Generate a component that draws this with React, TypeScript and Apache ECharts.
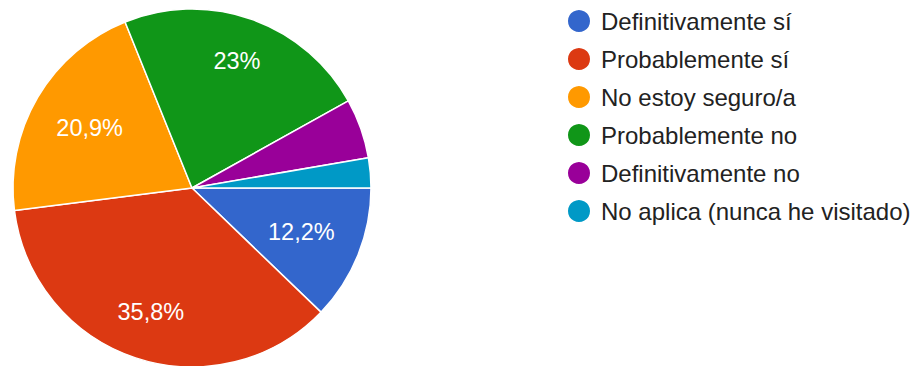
import React, { useEffect, useRef } from "react";
import * as echarts from "echarts";

const categories = [
  "Definitivamente sí",
  "Probablemente sí",
  "No estoy seguro/a",
  "Probablemente no",
  "Definitivamente no",
  "No aplica (nunca he visitado)",
];
const values = [12.2, 35.8, 20.9, 23, 5.4, 2.7];
const colors = ["#3366cc", "#dc3912", "#ff9900", "#109618", "#990099", "#0099c6"];

const CX = 192;
const CY = 188;
const R = 179;
const FONT = 24;
const FAMILY = "'Liberation Sans', Arial, sans-serif";
const LABEL_MIN = 10;

function fmt(v: number) {
  return String(v).replace(".", ",") + "%";
}

export default function App() {
  const ref = useRef<HTMLDivElement>(null);
  useEffect(() => {
    if (!ref.current) return;
    const chart = echarts.init(ref.current, null, { renderer: "svg" });
    const total = values.reduce((a, b) => a + b, 0);
    const mids: number[] = [];
    let acc = 0;
    values.forEach((v) => {
      const span = (v / total) * Math.PI * 2;
      mids.push(acc + span / 2);
      acc += span;
    });
    const data = categories.map((name, i) => ({
      name,
      value: values[i],
      itemStyle: { color: colors[i] },
      label: { show: values[i] >= LABEL_MIN },
    }));
    chart.setOption({
      animation: false,
      legend: {
        orient: "vertical",
        left: 566,
        top: 8,
        padding: 0,
        itemWidth: 24,
        itemHeight: 24,
        itemGap: 12,
        icon: "circle",
        selectedMode: false,
        textStyle: {
          fontSize: FONT,
          lineHeight: 24,
          height: 24,
          color: "#222222",
          fontFamily: FAMILY,
          padding: [0, 0, 0, 5],
        },
        data: categories,
      },
      series: [
        {
          type: "pie",
          center: [CX, CY],
          radius: [0, R],
          startAngle: 0,
          clockwise: true,
          silent: true,
          itemStyle: { borderColor: "#ffffff", borderWidth: 1.5 },
          label: {
            position: "inside",
            color: "#ffffff",
            fontSize: 23.5,
            fontFamily: FAMILY,
            formatter: (p: any) => fmt(p.value),
          },
          labelLayout: (params: any) => {
            const a = mids[params.dataIndex];
            const c = Math.cos(a);
            const s = Math.sin(a);
            const w = params.labelRect.width;
            const h = 23.5 * 0.72;
            const far = 152;
            const B = Math.abs(c) * w + Math.abs(s) * h;
            const C = (w * w + h * h) / 4 - far * far;
            const d = (-B + Math.sqrt(B * B - 4 * C)) / 2;
            return {
              x: CX + d * c,
              y: CY + d * s,
              align: "center",
              verticalAlign: "middle",
            };
          },
          data,
        },
      ],
    });
    return () => chart.dispose();
  }, []);
  return (
    <div
      ref={ref}
      style={{ position: "fixed", left: 0, top: 0, width: 914, height: 366, background: "#ffffff" }}
    />
  );
}
